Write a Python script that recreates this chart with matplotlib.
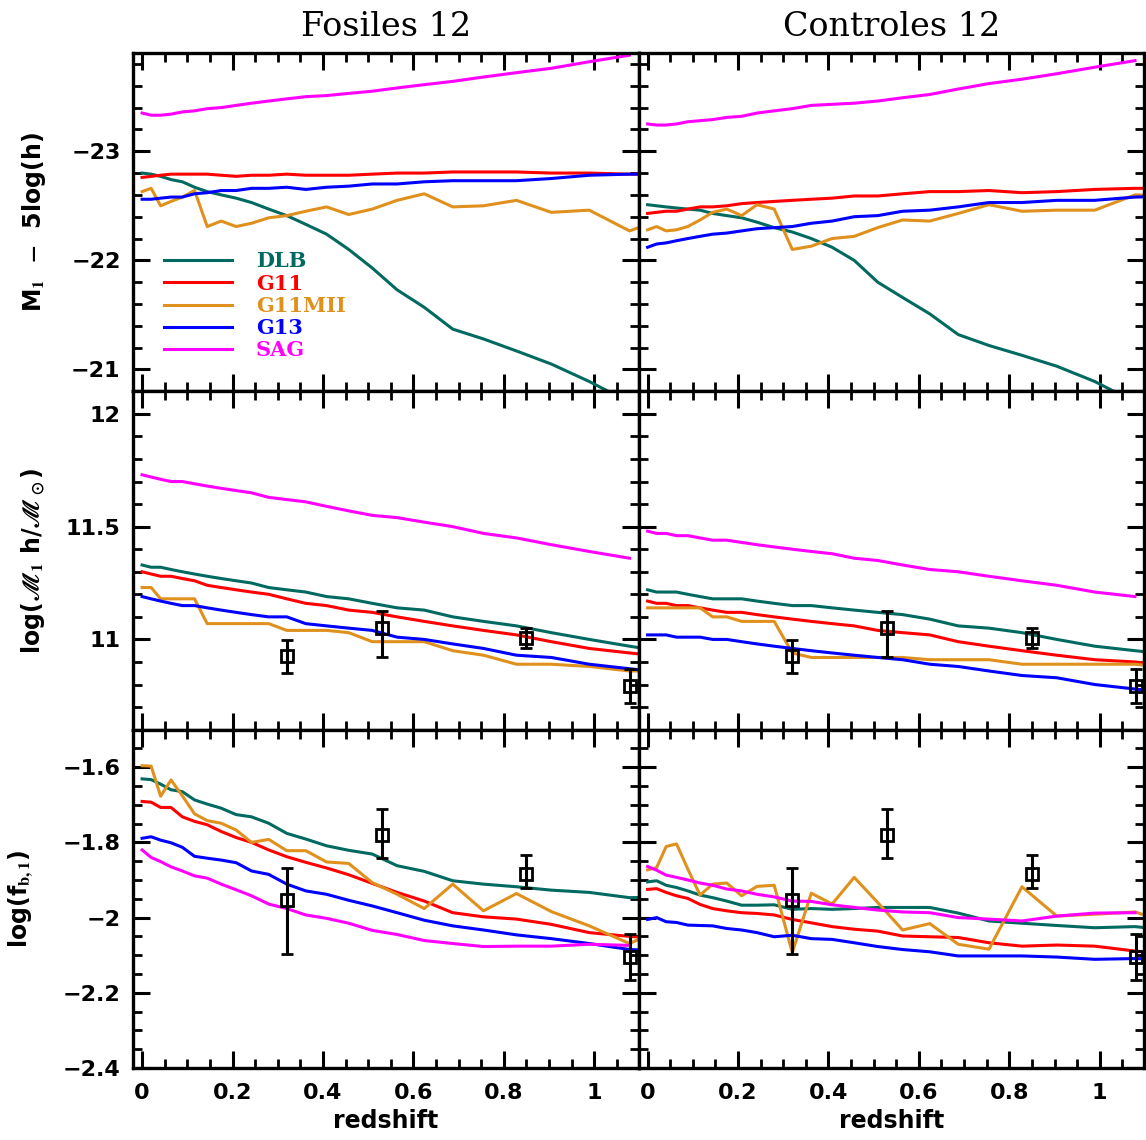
import numpy as np
import matplotlib
matplotlib.use("Agg")
import matplotlib.pyplot as plt
from matplotlib.ticker import MultipleLocator, FuncFormatter

plt.rcParams['font.family'] = 'DejaVu Sans'
plt.rcParams['font.weight'] = 'bold'
plt.rcParams['mathtext.fontset'] = 'stix'

# snapshot redshifts of the simulation outputs
zsnap = [0.0, 0.02, 0.041, 0.064, 0.089, 0.116, 0.144, 0.175, 0.208, 0.242,
         0.28, 0.32, 0.362, 0.408, 0.457, 0.509, 0.564, 0.624, 0.687, 0.755,
         0.828, 0.905, 0.989, 1.078, 1.173]

models = ['DLB', 'G11', 'G11MII', 'G13', 'SAG']
colors = ['#006a60', '#ff0000', '#e0901c', '#0000ff', '#ff00ff']

# --- M1 - 5log(h), fossil groups
mag_fos_dlb = [-22.80, -22.79, -22.77, -22.74, -22.72, -22.67, -22.63, -22.60, -22.57, -22.53,
               -22.47, -22.41, -22.33, -22.24, -22.10, -21.93, -21.73, -21.57, -21.37, -21.28,
               -21.17, -21.05, -20.89, -20.70, -20.45]
mag_fos_g11 = [-22.76, -22.77, -22.78, -22.79, -22.79, -22.79, -22.79, -22.78, -22.77, -22.78,
               -22.78, -22.79, -22.78, -22.78, -22.78, -22.79, -22.80, -22.80, -22.81, -22.81,
               -22.81, -22.80, -22.80, -22.79, -22.79]
mag_fos_g11mii = [-22.63, -22.66, -22.50, -22.54, -22.58, -22.64, -22.31, -22.36, -22.31, -22.34,
                  -22.39, -22.41, -22.45, -22.49, -22.42, -22.47, -22.55, -22.61, -22.49, -22.50,
                  -22.55, -22.44, -22.46, -22.27, -22.41]
mag_fos_g13 = [-22.56, -22.56, -22.57, -22.58, -22.58, -22.61, -22.62, -22.64, -22.64, -22.66,
               -22.66, -22.67, -22.65, -22.67, -22.68, -22.70, -22.70, -22.72, -22.73, -22.73,
               -22.73, -22.75, -22.78, -22.79, -22.79]
mag_fos_sag = [-23.35, -23.33, -23.33, -23.34, -23.36, -23.37, -23.39, -23.40, -23.42, -23.44,
               -23.46, -23.48, -23.50, -23.51, -23.53, -23.55, -23.58, -23.61, -23.64, -23.68,
               -23.72, -23.76, -23.82, -23.88]

# --- M1 - 5log(h), control groups
mag_con_dlb = [-22.51, -22.50, -22.49, -22.48, -22.47, -22.46, -22.43, -22.41, -22.39, -22.35,
               -22.30, -22.26, -22.20, -22.12, -22.00, -21.80, -21.66, -21.51, -21.32, -21.22,
               -21.13, -21.03, -20.89, -20.70, -20.45]
mag_con_g11 = [-22.43, -22.44, -22.45, -22.45, -22.47, -22.49, -22.49, -22.50, -22.52, -22.53,
               -22.54, -22.55, -22.56, -22.57, -22.59, -22.59, -22.61, -22.63, -22.63, -22.64,
               -22.62, -22.63, -22.65, -22.66, -22.66]
mag_con_g11mii = [-22.28, -22.31, -22.27, -22.28, -22.31, -22.37, -22.44, -22.47, -22.41, -22.51,
                  -22.47, -22.10, -22.13, -22.20, -22.22, -22.30, -22.37, -22.36, -22.43, -22.51,
                  -22.45, -22.46, -22.46, -22.60, -22.59]
mag_con_g13 = [-22.12, -22.15, -22.16, -22.18, -22.20, -22.22, -22.24, -22.25, -22.27, -22.29,
               -22.30, -22.31, -22.34, -22.36, -22.40, -22.41, -22.45, -22.46, -22.49, -22.53,
               -22.53, -22.55, -22.55, -22.58, -22.59]
mag_con_sag = [-23.25, -23.24, -23.24, -23.25, -23.27, -23.28, -23.29, -23.31, -23.32, -23.35,
               -23.37, -23.39, -23.42, -23.43, -23.44, -23.46, -23.49, -23.52, -23.57, -23.62,
               -23.66, -23.71, -23.77, -23.83]

# --- log(M1 h / Msun), fossil groups
mst_fos_dlb = [11.33, 11.32, 11.32, 11.31, 11.30, 11.29, 11.28, 11.27, 11.26, 11.25,
               11.23, 11.22, 11.21, 11.19, 11.18, 11.16, 11.14, 11.13, 11.10, 11.08,
               11.06, 11.03, 11.00, 10.97, 10.94]
mst_fos_g11 = [11.30, 11.29, 11.28, 11.28, 11.27, 11.26, 11.24, 11.23, 11.22, 11.21,
               11.20, 11.18, 11.16, 11.15, 11.13, 11.12, 11.10, 11.08, 11.06, 11.04,
               11.02, 10.99, 10.96, 10.94, 10.92]
mst_fos_g11mii = [11.23, 11.23, 11.18, 11.18, 11.18, 11.18, 11.07, 11.07, 11.07, 11.07,
                  11.07, 11.04, 11.04, 11.04, 11.03, 10.99, 10.99, 10.99, 10.95, 10.93,
                  10.89, 10.89, 10.88, 10.86, 10.86]
mst_fos_g13 = [11.19, 11.18, 11.17, 11.16, 11.15, 11.15, 11.14, 11.13, 11.12, 11.11,
               11.10, 11.10, 11.07, 11.06, 11.05, 11.04, 11.01, 11.00, 10.98, 10.96,
               10.93, 10.92, 10.89, 10.87, 10.85]
mst_fos_sag = [11.73, 11.72, 11.71, 11.70, 11.70, 11.69, 11.68, 11.67, 11.66, 11.65,
               11.63, 11.62, 11.61, 11.59, 11.57, 11.55, 11.54, 11.52, 11.50, 11.47,
               11.45, 11.42, 11.39, 11.36]

# --- log(M1 h / Msun), control groups
mst_con_dlb = [11.22, 11.21, 11.21, 11.21, 11.20, 11.19, 11.18, 11.18, 11.18, 11.17,
               11.16, 11.15, 11.15, 11.14, 11.13, 11.12, 11.11, 11.09, 11.06, 11.05,
               11.03, 11.00, 10.97, 10.95, 10.93]
mst_con_g11 = [11.17, 11.16, 11.16, 11.15, 11.15, 11.14, 11.13, 11.12, 11.12, 11.11,
               11.10, 11.09, 11.08, 11.07, 11.06, 11.04, 11.03, 11.02, 10.99, 10.97,
               10.95, 10.93, 10.91, 10.90, 10.88]
mst_con_g11mii = [11.14, 11.14, 11.14, 11.14, 11.14, 11.14, 11.10, 11.10, 11.08, 11.08,
                  11.08, 10.94, 10.92, 10.92, 10.92, 10.92, 10.92, 10.91, 10.91, 10.91,
                  10.89, 10.89, 10.89, 10.89, 10.87]
mst_con_g13 = [11.02, 11.02, 11.02, 11.01, 11.01, 11.01, 11.00, 11.00, 10.99, 10.98,
               10.97, 10.96, 10.95, 10.94, 10.93, 10.92, 10.91, 10.89, 10.88, 10.86,
               10.84, 10.83, 10.80, 10.78, 10.76]
mst_con_sag = [11.48, 11.47, 11.47, 11.46, 11.46, 11.45, 11.44, 11.44, 11.43, 11.42,
               11.41, 11.40, 11.39, 11.38, 11.36, 11.35, 11.33, 11.31, 11.30, 11.28,
               11.26, 11.24, 11.21, 11.19]

# --- log(f_b,1), fossil groups
fb_fos_dlb = [-1.631, -1.633, -1.645, -1.660, -1.665, -1.687, -1.698, -1.709, -1.726, -1.732,
              -1.749, -1.776, -1.791, -1.809, -1.821, -1.831, -1.862, -1.877, -1.902, -1.911,
              -1.918, -1.927, -1.933, -1.947, -1.945]
fb_fos_g11 = [-1.691, -1.693, -1.707, -1.707, -1.732, -1.744, -1.753, -1.771, -1.787, -1.800,
              -1.820, -1.838, -1.853, -1.868, -1.886, -1.909, -1.933, -1.956, -1.987, -1.998,
              -2.004, -2.018, -2.040, -2.050, -2.058]
fb_fos_g11mii = [-1.596, -1.597, -1.677, -1.634, -1.676, -1.724, -1.742, -1.749, -1.767, -1.800,
                 -1.792, -1.822, -1.822, -1.852, -1.856, -1.907, -1.938, -1.976, -1.911, -1.982,
                 -1.936, -1.984, -2.022, -2.069, -2.018]
fb_fos_g13 = [-1.789, -1.785, -1.794, -1.801, -1.813, -1.837, -1.842, -1.847, -1.854, -1.876,
              -1.885, -1.911, -1.929, -1.938, -1.954, -1.969, -1.987, -2.007, -2.022, -2.033,
              -2.046, -2.056, -2.069, -2.085, -2.089]
fb_fos_sag = [-1.820, -1.840, -1.851, -1.865, -1.876, -1.889, -1.895, -1.911, -1.926, -1.942,
              -1.964, -1.976, -1.993, -2.002, -2.015, -2.034, -2.045, -2.061, -2.069, -2.077,
              -2.076, -2.076, -2.071, -2.074]

# --- log(f_b,1), control groups
fb_con_dlb = [-1.905, -1.902, -1.914, -1.920, -1.929, -1.940, -1.947, -1.956, -1.967, -1.967,
              -1.966, -1.978, -1.976, -1.978, -1.976, -1.973, -1.973, -1.973, -1.988, -2.009,
              -2.015, -2.021, -2.027, -2.024, -2.036]
fb_con_g11 = [-1.925, -1.923, -1.933, -1.942, -1.949, -1.965, -1.976, -1.982, -1.987, -1.989,
              -1.993, -2.005, -2.014, -2.024, -2.031, -2.036, -2.049, -2.051, -2.053, -2.067,
              -2.076, -2.073, -2.076, -2.089, -2.100]
fb_con_g11mii = [-1.873, -1.867, -1.811, -1.804, -1.871, -1.940, -1.911, -1.908, -1.942, -1.917,
                 -1.914, -2.093, -1.935, -1.964, -1.893, -1.960, -2.033, -2.016, -2.071, -2.084,
                 -1.918, -1.996, -1.991, -1.985, -2.022]
fb_con_g13 = [-2.005, -2.000, -2.011, -2.013, -2.020, -2.021, -2.022, -2.029, -2.033, -2.040,
              -2.051, -2.047, -2.056, -2.058, -2.067, -2.077, -2.085, -2.091, -2.102, -2.102,
              -2.102, -2.105, -2.111, -2.109, -2.111]
fb_con_sag = [-1.864, -1.874, -1.887, -1.893, -1.900, -1.908, -1.914, -1.924, -1.929, -1.938,
              -1.945, -1.956, -1.957, -1.966, -1.973, -1.980, -1.985, -1.987, -2.000, -2.004,
              -2.009, -1.996, -1.988, -1.987]

# observed points
z_obs = [0.32, 0.53, 0.85, 1.08]
mst_obs = [10.926, 11.05, 11.007, 10.794]
mst_obs_lo = [0.076, 0.126, 0.047, 0.076]
mst_obs_hi = [0.071, 0.074, 0.044, 0.077]
fb_obs = [-1.954, -1.779, -1.885, -2.104]
fb_obs_lo = [0.143, 0.063, 0.037, 0.062]
fb_obs_hi = [0.087, 0.069, 0.051, 0.061]

panels = [
    [[mag_fos_dlb, mag_fos_g11, mag_fos_g11mii, mag_fos_g13, mag_fos_sag],
     [mag_con_dlb, mag_con_g11, mag_con_g11mii, mag_con_g13, mag_con_sag]],
    [[mst_fos_dlb, mst_fos_g11, mst_fos_g11mii, mst_fos_g13, mst_fos_sag],
     [mst_con_dlb, mst_con_g11, mst_con_g11mii, mst_con_g13, mst_con_sag]],
    [[fb_fos_dlb, fb_fos_g11, fb_fos_g11mii, fb_fos_g13, fb_fos_sag],
     [fb_con_dlb, fb_con_g11, fb_con_g11mii, fb_con_g13, fb_con_sag]],
]

ylims = [(-20.8, -23.9), (10.6, 12.1), (-2.4, -1.5)]
ymajor = [1.0, 0.5, 0.2]
yminor = [0.2, 0.1, 0.05]
ylabels = [r'M$_\mathbf{1}$  $-$  5log(h)',
           r'log($\mathscr{M}_\mathbf{1}$ h/$\mathscr{M}_\odot$)',
           r'log(f$_\mathbf{b,1}$)']
ylab_x = [-0.168, -0.170, -0.194]
titles = ['Fosiles 12', 'Controles 12']


def fmt(v, pos):
    s = '%g' % round(v, 6)
    return s.replace('-', '\u2212')


fig, axes = plt.subplots(3, 2, figsize=(11.46, 11.40), dpi=100)
fig.subplots_adjust(left=0.1161, right=0.9983, top=0.9535, bottom=0.0632,
                    wspace=0, hspace=0)

for r in range(3):
    for c in range(2):
        ax = axes[r, c]
        for m, series in enumerate(panels[r][c]):
            ax.plot(zsnap[:len(series)], series, color=colors[m], lw=2.2,
                    label=models[m])
        if r == 1:
            ax.errorbar(z_obs, mst_obs, yerr=[mst_obs_lo, mst_obs_hi], fmt='s',
                        mfc='none', mec='k', ecolor='k', ms=9, mew=2,
                        elinewidth=2.2, capsize=4, capthick=2.2, zorder=5)
        if r == 2:
            ax.errorbar(z_obs, fb_obs, yerr=[fb_obs_lo, fb_obs_hi], fmt='s',
                        mfc='none', mec='k', ecolor='k', ms=9, mew=2,
                        elinewidth=2.2, capsize=4, capthick=2.2, zorder=5)

        ax.set_xlim(-0.02, 1.098)
        ax.set_ylim(*ylims[r])
        ax.xaxis.set_major_locator(MultipleLocator(0.2))
        ax.xaxis.set_minor_locator(MultipleLocator(0.05))
        ax.yaxis.set_major_locator(MultipleLocator(ymajor[r]))
        ax.yaxis.set_minor_locator(MultipleLocator(yminor[r]))
        ax.xaxis.set_major_formatter(FuncFormatter(fmt))
        ax.yaxis.set_major_formatter(FuncFormatter(fmt))
        ax.tick_params(which='both', direction='in', top=True, right=True,
                       labelsize=16)
        ax.tick_params(which='major', length=12, width=2.2, pad=9)
        ax.tick_params(which='minor', length=6.5, width=2.0)
        ax.tick_params(axis='x', pad=11)
        for sp in ax.spines.values():
            sp.set_linewidth(2.4)

        if c == 1:
            ax.tick_params(labelleft=False)
        else:
            ax.set_ylabel(ylabels[r], fontsize=17, fontweight='bold')
            ax.yaxis.set_label_coords(ylab_x[r], 0.5)
        if r < 2:
            ax.tick_params(labelbottom=False)
        else:
            ax.set_xlabel('redshift', fontsize=17, fontweight='bold', labelpad=4)
        if r == 0:
            ax.set_title(titles[c], family='DejaVu Serif', fontweight='normal',
                         fontsize=24, pad=12)

leg = axes[0, 0].legend(loc='upper left', bbox_to_anchor=(0.061, 0.414),
                        frameon=False, borderpad=0, borderaxespad=0,
                        handlelength=3.27, handletextpad=1.15, labelspacing=0.11,
                        labelcolor='linecolor',
                        prop=dict(family='DejaVu Serif', weight='bold', size=15))

fig.savefig('out.png', dpi=100)
